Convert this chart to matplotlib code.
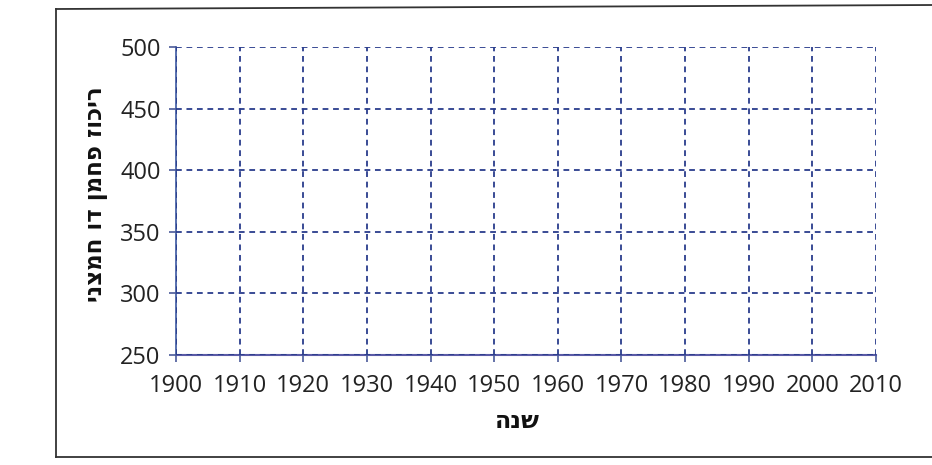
import matplotlib
matplotlib.use('Agg')
import matplotlib.pyplot as plt
from matplotlib.lines import Line2D

# axis data (the chart is an empty grid)
years = [1900, 1910, 1920, 1930, 1940, 1950, 1960, 1970, 1980, 1990, 2000, 2010]
co2_levels = [250, 300, 350, 400, 450, 500]
x_title = 'שנה'
y_title = 'ריכוז פחמן דו חמצני'


def rtl(s):
    # matplotlib has no bidi, so flip hebrew text by hand
    return s[::-1]


fig = plt.figure(figsize=(9.32, 4.65), dpi=100)
ax = fig.add_axes([176/932, 1 - 355/465, 700/932, 308/465])

ax.set_xlim(years[0], years[-1])
ax.set_ylim(co2_levels[0], co2_levels[-1])
ax.set_xticks(years)
ax.set_yticks(co2_levels)

grid_col = '#2a3d8c'
ax.grid(True, color=grid_col, linestyle=(0, (3.2, 2.6)), linewidth=1.3)

for side in ['top', 'right']:
    ax.spines[side].set_visible(False)
ax.spines['left'].set_color('#4a64a8')
ax.spines['left'].set_linewidth(1.3)
ax.spines['bottom'].set_color('#5a5aa6')
ax.spines['bottom'].set_linewidth(1.5)
ax.set_axisbelow(False)

ax.tick_params(axis='both', colors='#4a5a9a', length=5, width=1.2,
               labelcolor='#222222', labelsize=17)
for lab in ax.get_xticklabels() + ax.get_yticklabels():
    lab.set_family('Open Sans')
ax.tick_params(axis='x', pad=9)
ax.tick_params(axis='y', pad=6)

fig.text(517/932, 1 - 421/465, rtl(x_title), ha='center', va='center',
         fontsize=17, fontweight='bold', family='DejaVu Sans', color='#111111')
fig.text(97/932, 1 - 194/465, rtl(y_title), ha='center', va='center',
         rotation=90, fontsize=16.5, fontweight='bold', family='DejaVu Sans',
         color='#111111')

# scanned frame around the figure (left, top, bottom)
fx0 = 56/932
fy_top = 1 - 9/465
fy_bot = 1 - 457/465
fig.add_artist(Line2D([fx0, fx0], [fy_bot, fy_top], color='#333333', lw=1.3))
fig.add_artist(Line2D([fx0, 1.0], [fy_top, 1 - 5/465], color='#333333', lw=1.3))
fig.add_artist(Line2D([fx0, 1.0], [fy_bot, fy_bot], color='#333333', lw=1.3))

fig.savefig('out.png', dpi=100)
